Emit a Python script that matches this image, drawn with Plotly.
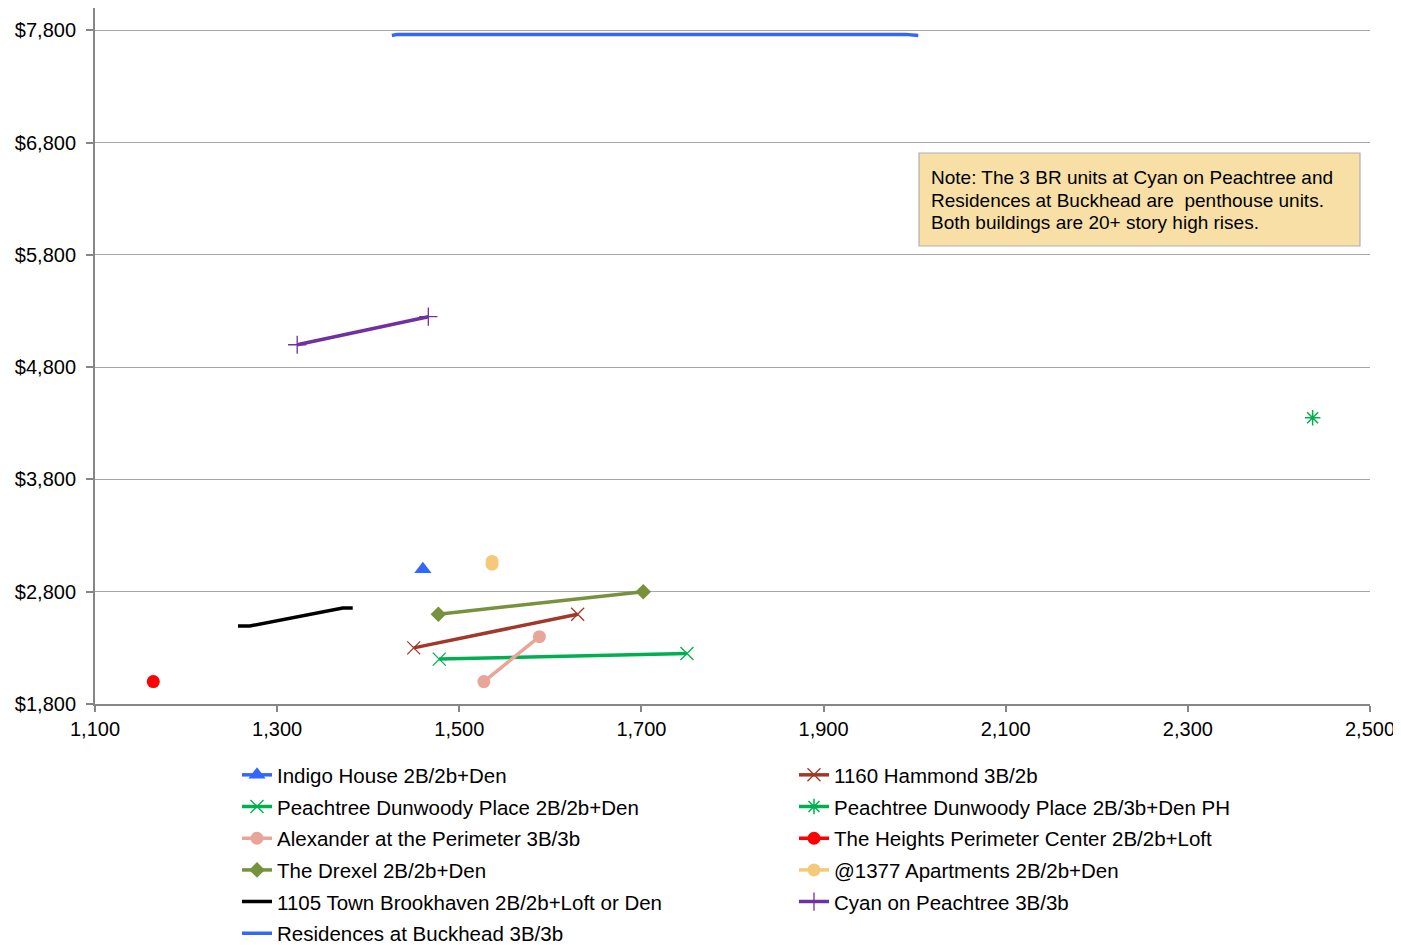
import plotly.graph_objects as go

# ---- data (square feet vs monthly rent) ----
indigo_x = [1460]
indigo_y = [3000]

hammond_x = [1450, 1630]
hammond_y = [2300, 2600]

pdp_x = [1478, 1750]
pdp_y = [2200, 2250]

pdp_ph_x = [2437]
pdp_ph_y = [4350]

alexander_x = [1527, 1588]
alexander_y = [2000, 2400]

heights_x = [1164]
heights_y = [2000]

drexel_x = [1477, 1702]
drexel_y = [2600, 2800]

apts1377_x = [1536, 1536]
apts1377_y = [3045, 3070]

brookhaven_x = [1257, 1270, 1372, 1383]
brookhaven_y = [2495, 2495, 2655, 2655]

cyan_x = [1322, 1466]
cyan_y = [5000, 5250]

buckhead_x = [1426, 1432, 1990, 2004]
buckhead_y = [7755, 7765, 7765, 7755]

x_ticks = [1100, 1300, 1500, 1700, 1900, 2100, 2300, 2500]
y_ticks = [1800, 2800, 3800, 4800, 5800, 6800, 7800]

note_lines = ["Note: The 3 BR units at Cyan on Peachtree and",
              "Residences at Buckhead are  penthouse units.",
              "Both buildings are 20+ story high rises."]

FONT = "Arial, Liberation Sans, Helvetica, sans-serif"

# page body has an 8px margin; work in screen pixels and convert
OFF = 8
W, H = 1393, 940
ML, MR, MT, MB = 87, 31, 0, 244
PW = W - ML - MR
PH = H - MT - MB


def px(sx):
    return (sx - OFF - ML) / PW


def py(sy):
    return (MT + PH - (sy - OFF)) / PH


series = [
    ("Indigo House 2B/2b+Den", indigo_x, indigo_y, "#3366FF", dict(symbol="triangle-up", size=15), "markers+lines"),
    ("1160 Hammond 3B/2b", hammond_x, hammond_y, "#A0392A", dict(symbol="x-thin-open", size=13, line=dict(width=1.3, color="#A0392A")), "markers+lines"),
    ("Peachtree Dunwoody Place 2B/2b+Den", pdp_x, pdp_y, "#00B050", dict(symbol="x-thin-open", size=13, line=dict(width=1.3, color="#00B050")), "markers+lines"),
    ("Peachtree Dunwoody Place 2B/3b+Den PH", pdp_ph_x, pdp_ph_y, "#00B050", dict(symbol="asterisk-open", size=13, line=dict(width=1.5, color="#00B050")), "markers+lines"),
    ("Alexander at the Perimeter 3B/3b", alexander_x, alexander_y, "#E8A598", dict(symbol="circle", size=13), "markers+lines"),
    ("The Heights Perimeter Center 2B/2b+Loft", heights_x, heights_y, "#FF0000", dict(symbol="circle", size=13), "markers+lines"),
    ("The Drexel 2B/2b+Den", drexel_x, drexel_y, "#76923C", dict(symbol="diamond", size=12), "markers+lines"),
    ("@1377 Apartments 2B/2b+Den", apts1377_x, apts1377_y, "#F5C97A", dict(symbol="circle", size=13), "markers+lines"),
    ("1105 Town Brookhaven 2B/2b+Loft or Den", brookhaven_x, brookhaven_y, "#000000", None, "lines"),
    ("Cyan on Peachtree 3B/3b", cyan_x, cyan_y, "#7030A0", dict(symbol="cross-thin-open", size=13, line=dict(width=1.3, color="#7030A0")), "markers+lines"),
    ("Residences at Buckhead 3B/3b", buckhead_x, buckhead_y, "#3366FF", None, "lines"),
]

legend_names = ["legend", "legend2", "legend3", "legend4", "legend5", "legend6"]

fig = go.Figure()
for i, (name, xs, ys, color, marker, mode) in enumerate(series):
    kw = dict(x=xs, y=ys, name=name, mode=mode,
              line=dict(color=color, width=3.5),
              legend=legend_names[i // 2])
    if marker is not None:
        m = dict(marker)
        m["color"] = color
        kw["marker"] = m
    fig.add_trace(go.Scatter(**kw))

ROW0 = 776
ROWGAP = 31.7
legend_layout = {}
for r, lname in enumerate(legend_names):
    top = ROW0 + ROWGAP * r - 21
    legend_layout[lname] = dict(
        orientation="h", x=px(237), xanchor="left", y=py(top), yanchor="top",
        entrywidth=512, entrywidthmode="pixels",
        font=dict(family=FONT, size=20.5, color="#000000"),
        bgcolor="rgba(0,0,0,0)",
    )

fig.update_layout(
    width=W, height=H,
    margin=dict(l=ML, r=MR, t=MT, b=MB, autoexpand=False),
    paper_bgcolor="white", plot_bgcolor="white",
    font=dict(family=FONT, size=20, color="#000000"),
    showlegend=True,
    xaxis=dict(
        range=[1100, 2500], tickvals=x_ticks, tickformat=",d",
        showgrid=False, zeroline=False,
        showline=True, linecolor="#868686", linewidth=2,
        ticks="outside", ticklen=6, tickcolor="#868686", tickwidth=1.5,
        tickfont=dict(family=FONT, size=20, color="#000000"),
        ticklabelstandoff=0,
    ),
    yaxis=dict(
        range=[1800, 8000], tickvals=y_ticks, tickformat="$,d",
        showgrid=True, gridcolor="#A6A6A6", gridwidth=1.2,
        zeroline=False,
        showline=True, linecolor="#868686", linewidth=2,
        ticks="outside", ticklen=7, tickcolor="#868686", tickwidth=1.5,
        tickfont=dict(family=FONT, size=20, color="#000000"),
        ticklabelstandoff=6,
    ),
    **legend_layout,
)

# note box
fig.add_shape(
    type="rect", xref="paper", yref="paper",
    x0=px(919), x1=px(1360), y0=py(246), y1=py(153),
    fillcolor="#F7DFA6", line=dict(color="#B0B0B0", width=1.2),
    layer="above",
)
for k, line in enumerate(note_lines):
    fig.add_annotation(
        xref="paper", yref="paper",
        x=px(929), y=py(178 + 22 * k),
        xanchor="left", yanchor="middle",
        text=line, showarrow=False, align="left",
        font=dict(family=FONT, size=19, color="#000000"),
    )

fig.write_html("out.html", config={"displayModeBar": False})
